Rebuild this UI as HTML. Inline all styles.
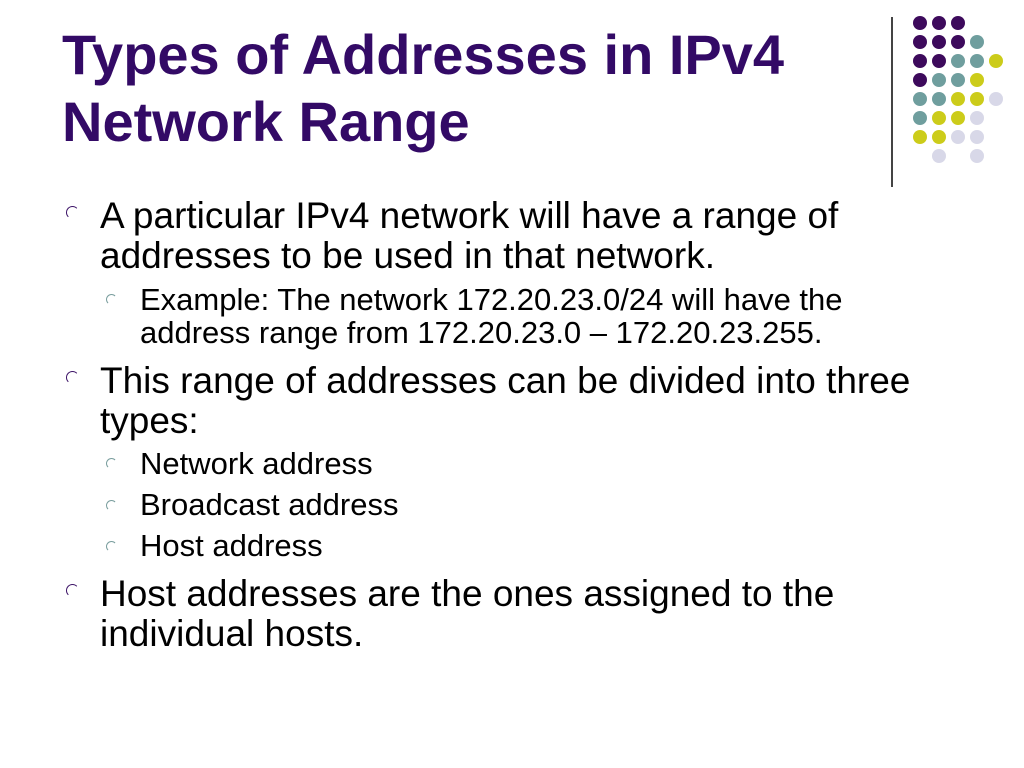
<!DOCTYPE html>
<html><head><meta charset="utf-8"><style>
body{margin:0;width:1024px;height:768px;background:#fff;position:relative;overflow:hidden;font-family:"Liberation Sans",sans-serif;}
.t{position:absolute;left:62px;top:21px;font-size:56px;font-weight:bold;color:#330a66;line-height:67px;white-space:nowrap;}
.l{position:absolute;white-space:nowrap;color:#000;line-height:1;}
.a{left:100px;font-size:37px;}
.b{left:140px;font-size:31px;}
.bul{position:absolute;width:11px;height:11px;border-radius:50%;border:1.5px solid transparent;}
.p{border-left-color:#3b1266;border-top-color:#3b1266;}
.g{border-left-color:#7a9e9e;border-top-color:#7a9e9e;width:9px;height:9px;}
.d{position:absolute;width:14px;height:14px;border-radius:50%;}
</style></head><body>
<div class="t">Types of Addresses in IPv4<br>Network Range</div>
<div style="position:absolute;left:891px;top:17px;width:2px;height:170px;background:#444"></div>
<div id="dots"></div>
<div class="bul p" style="left:66px;top:206px"></div>
<div class="l a" style="top:197px">A particular IPv4 network will have a range of</div>
<div class="l a" style="top:237px">addresses to be used in that network.</div>
<div class="bul g" style="left:106px;top:294px"></div>
<div class="l b" style="top:284px">Example: The network 172.20.23.0/24 will have the</div>
<div class="l b" style="top:317px">address range from 172.20.23.0 – 172.20.23.255.</div>
<div class="bul p" style="left:66px;top:371px"></div>
<div class="l a" style="top:362px">This range of addresses can be divided into three</div>
<div class="l a" style="top:402px">types:</div>
<div class="bul g" style="left:106px;top:458px"></div>
<div class="l b" style="top:448px">Network address</div>
<div class="bul g" style="left:106px;top:500px"></div>
<div class="l b" style="top:489px">Broadcast address</div>
<div class="bul g" style="left:106px;top:541px"></div>
<div class="l b" style="top:530px">Host address</div>
<div class="bul p" style="left:66px;top:584px"></div>
<div class="l a" style="top:575px">Host addresses are the ones assigned to the</div>
<div class="l a" style="top:615px">individual hosts.</div>
<script>
var rows=["PPP","PPPT","PPTTY","PTTY","TTYYL","TYYL","YYLL"," L L"];
var c={P:"#3d0a5c",T:"#6f9e9e",Y:"#cccc1a",L:"#d8d8e8"};
var h="";
rows.forEach(function(r,i){for(var j=0;j<r.length;j++){var k=r[j];if(c[k])h+='<div class="d" style="left:'+(913+j*19)+'px;top:'+(16+i*19)+'px;background:'+c[k]+'"></div>';}});
document.getElementById("dots").innerHTML=h;
</script>
</body></html>
